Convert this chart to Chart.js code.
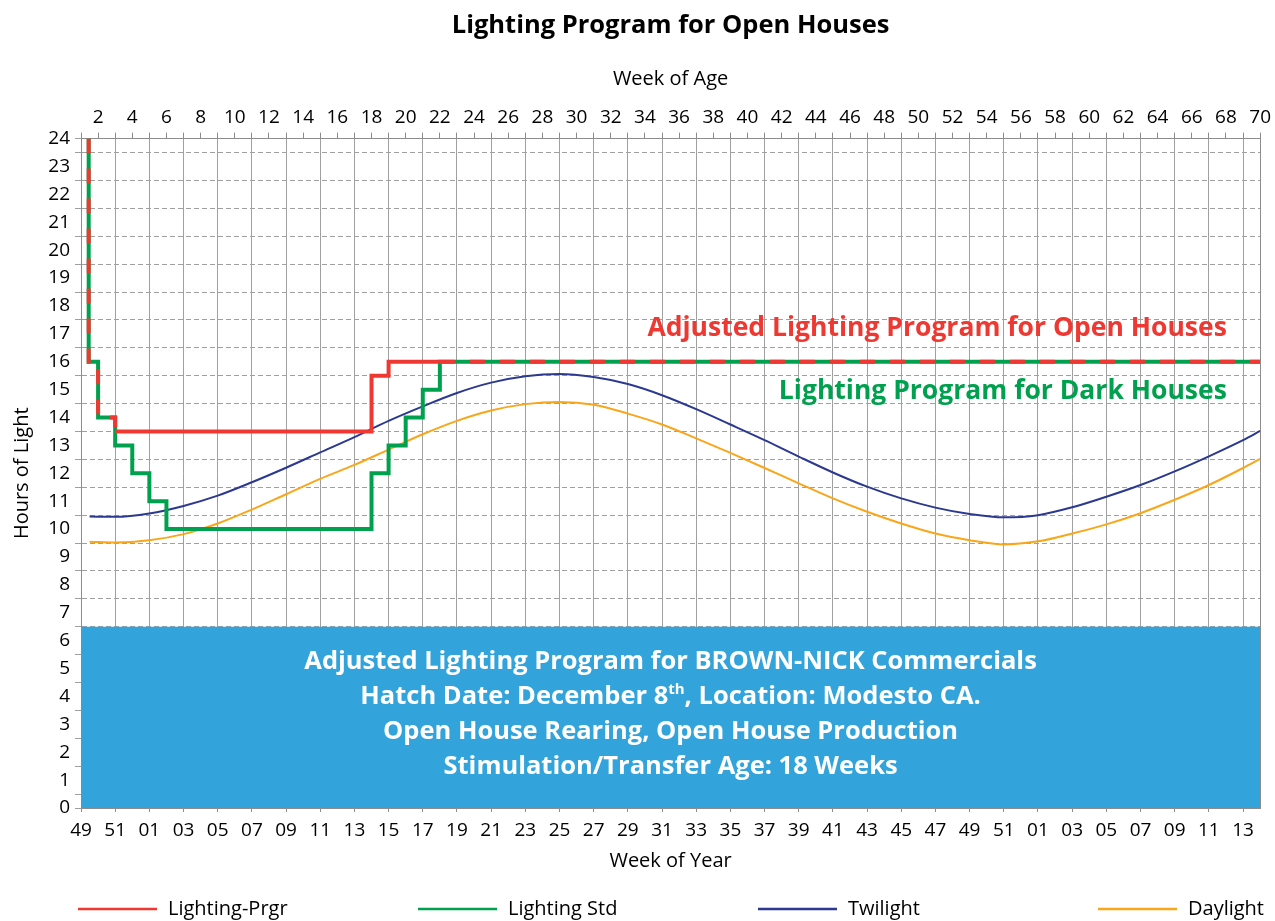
<!DOCTYPE html>
<html>
<head>
<meta charset="utf-8">
<title>Lighting Program for Open Houses</title>
<script src="https://cdn.jsdelivr.net/npm/chart.js@4"></script>
<style>
  body { margin: 0; background: #fff; }
  #chart { display: block; }
</style>
</head>
<body>
<canvas id="chart" width="1275" height="921"></canvas>
<script>
// step programs, x = week of age (week 1 = hatch week), y = hours of light
const prgrWeeks = [1.45, 1.45, 2, 3, 18, 19, 22, 70];
const prgrHours = [24, 16, 14, 13.5, 15.5, 16, 16, 16];

const stdWeeks = [1.45, 1.45, 2, 3, 4, 5, 6, 18, 19, 20, 21, 22, 70];
const stdHours = [24, 16, 14, 13, 12, 11, 10, 12, 13, 14, 15, 16, 16];

// natural day length at Modesto
const sunWeeks = [1.5, 3, 5, 7, 9, 11, 13, 15, 17, 19, 21, 23, 25, 27, 29, 31, 33, 35,
  37, 39, 41, 43, 45, 47, 49, 51, 53, 55, 57, 59, 61, 63, 65, 67, 69, 70];
const twilightHours = [10.45, 10.44, 10.56, 10.83, 11.2, 11.68, 12.2, 12.75, 13.3, 13.88,
  14.4, 14.88, 15.25, 15.48, 15.56, 15.45, 15.2, 14.8, 14.3, 13.75, 13.19, 12.6, 12.03,
  11.52, 11.1, 10.77, 10.54, 10.42, 10.5, 10.78, 11.16, 11.58, 12.07, 12.61, 13.19, 13.52];
const daylightHours = [9.55, 9.52, 9.6, 9.82, 10.2, 10.7, 11.25, 11.8, 12.3, 12.85,
  13.4, 13.88, 14.25, 14.48, 14.56, 14.46, 14.14, 13.75, 13.25, 12.73, 12.19, 11.64, 11.1,
  10.62, 10.2, 9.84, 9.6, 9.45, 9.56, 9.84, 10.17, 10.57, 11.05, 11.58, 12.19, 12.52];

// axes
const ageTicks = [2, 4, 6, 8, 10, 12, 14, 16, 18, 20, 22, 24, 26, 28, 30, 32, 34, 36, 38,
  40, 42, 44, 46, 48, 50, 52, 54, 56, 58, 60, 62, 64, 66, 68, 70];
const yearTicks = [1, 3, 5, 7, 9, 11, 13, 15, 17, 19, 21, 23, 25, 27, 29, 31, 33, 35, 37,
  39, 41, 43, 45, 47, 49, 51, 53, 55, 57, 59, 61, 63, 65, 67, 69];
const yearLabels = ['49', '51', '01', '03', '05', '07', '09', '11', '13', '15', '17', '19',
  '21', '23', '25', '27', '29', '31', '33', '35', '37', '39', '41', '43', '45', '47', '49',
  '51', '01', '03', '05', '07', '09', '11', '13'];

const bandTop = 6.5;
const bandLines = [
  ['Adjusted Lighting Program for BROWN-NICK Commercials'],
  ['Hatch Date: December 8', 'th', ', Location: Modesto CA.'],
  ['Open House Rearing, Open House Production'],
  ['Stimulation/Transfer Age: 18 Weeks']
];

const prgrColor = '#ee3831';
const stdColor = '#00a14e';
const twilightColor = '#2b3990';
const daylightColor = '#f9a61b';
const bandColor = '#33a3dc';
const gridGray = '#a0a0a0';
const axisGray = '#8c8c8c';

const FONT = "'Open Sans', sans-serif";
Chart.defaults.font.family = FONT;
Chart.defaults.color = '#000';

const toPoints = (xs, ys) => xs.map((x, i) => ({x: x, y: ys[i]}));
const stdPoints = toPoints(stdWeeks, stdHours);
// red is dashed wherever it runs on top of the green program
const sharesStd = p => stdPoints.some(s => s.x === p.x && s.y === p.y);

const notesPlugin = {
  id: 'notes',
  afterDatasetsDraw(chart) {
    const {ctx, chartArea, scales} = chart;
    const x = scales.x, y = scales.y;
    ctx.save();
    ctx.textBaseline = 'middle';

    ctx.textAlign = 'right';
    ctx.font = 'bold 26.5px ' + FONT;
    ctx.fillStyle = prgrColor;
    ctx.fillText('Adjusted Lighting Program for Open Houses', x.getPixelForValue(68.05), y.getPixelForValue(17.2));
    ctx.fillStyle = stdColor;
    ctx.fillText('Lighting Program for Dark Houses', x.getPixelForValue(68.05), y.getPixelForValue(14.95));

    // text block inside the blue band
    ctx.textAlign = 'left';
    ctx.fillStyle = '#fff';
    const cx = (chartArea.left + chartArea.right) / 2;
    const cy = (y.getPixelForValue(bandTop) + y.getPixelForValue(0)) / 2 - 3;
    bandLines.forEach((parts, i) => {
      const ly = cy + (i - 1.5) * 35;
      const fonts = parts.map((p, j) => (parts.length === 3 && j === 1) ? 'bold 15px ' + FONT : 'bold 25.5px ' + FONT);
      const widths = parts.map((p, j) => { ctx.font = fonts[j]; return ctx.measureText(p).width; });
      let px = cx - widths.reduce((a, b) => a + b, 0) / 2;
      parts.forEach((p, j) => {
        ctx.font = fonts[j];
        const sup = parts.length === 3 && j === 1;
        ctx.fillText(p, px, sup ? ly - 7 : ly);
        px += widths[j];
      });
    });
    ctx.restore();
  },
  afterDraw(chart) {
    // legend along the bottom
    const {ctx, chartArea} = chart;
    ctx.save();
    ctx.font = '20px ' + FONT;
    ctx.textBaseline = 'middle';
    ctx.textAlign = 'left';
    const ly = 909;
    chart.data.datasets.filter(d => d.label).forEach((d, i) => {
      const lx = chartArea.left - 3 + i * 340;
      ctx.strokeStyle = d.borderColor;
      ctx.lineWidth = 2.5;
      ctx.beginPath();
      ctx.moveTo(lx, ly);
      ctx.lineTo(lx + 79, ly);
      ctx.stroke();
      ctx.fillStyle = '#000';
      ctx.fillText(d.label, lx + 90, ly);
    });
    ctx.restore();
  }
};

new Chart(document.getElementById('chart'), {
  type: 'line',
  data: {
    datasets: [
      {
        label: 'Lighting-Prgr',
        data: toPoints(prgrWeeks, prgrHours),
        borderColor: prgrColor,
        borderWidth: 4,
        stepped: true,
        pointRadius: 0,
        segment: {
          borderDash: c => sharesStd(c.p0.parsed) ? [15, 15] : undefined
        }
      },
      {
        label: 'Lighting Std',
        data: stdPoints,
        borderColor: stdColor,
        borderWidth: 4,
        stepped: true,
        pointRadius: 0
      },
      {
        label: 'Twilight',
        data: toPoints(sunWeeks, twilightHours),
        borderColor: twilightColor,
        borderWidth: 2,
        cubicInterpolationMode: 'monotone',
        pointRadius: 0
      },
      {
        label: 'Daylight',
        data: toPoints(sunWeeks, daylightHours),
        borderColor: daylightColor,
        borderWidth: 2,
        cubicInterpolationMode: 'monotone',
        pointRadius: 0
      },
      {
        label: '',
        data: [{x: 1, y: bandTop}, {x: 70, y: bandTop}],
        borderWidth: 0,
        borderColor: bandColor,
        backgroundColor: bandColor,
        fill: 'origin',
        pointRadius: 0
      }
    ]
  },
  options: {
    responsive: false,
    animation: false,
    devicePixelRatio: 1,
    layout: { padding: 0 },
    plugins: {
      legend: { display: false },
      tooltip: { enabled: false },
      title: {
        display: true,
        fullSize: false,
        text: 'Lighting Program for Open Houses',
        color: '#000',
        font: { size: 25.5, weight: 'bold' },
        padding: { top: 10, bottom: 0 }
      }
    },
    scales: {
      x: {
        type: 'linear',
        position: 'bottom',
        min: 1,
        max: 70,
        afterBuildTicks: s => { s.ticks = yearTicks.map(v => ({value: v})); },
        afterFit: s => { s.height = 113; },
        ticks: {
          autoSkip: false,
          maxRotation: 0,
          padding: 7,
          font: { size: 19 },
          callback: (v, i) => yearLabels[i]
        },
        grid: { color: gridGray, tickColor: axisGray, tickLength: 4 },
        border: { color: axisGray },
        title: {
          display: true,
          text: 'Week of Year',
          font: { size: 20 },
          padding: { top: 0, bottom: 48 }
        }
      },
      xTop: {
        type: 'linear',
        position: 'top',
        min: 1,
        max: 70,
        afterBuildTicks: s => {
          s.ticks = [];
          for (let w = 1; w <= 70; w++) s.ticks.push({value: w});
        },
        afterFit: s => { s.height = 98; },
        ticks: {
          autoSkip: false,
          maxRotation: 0,
          padding: 4,
          font: { size: 19 },
          callback: v => ageTicks.includes(v) ? String(v) : ''
        },
        grid: { drawOnChartArea: false, color: axisGray, tickLength: 6 },
        border: { color: axisGray },
        title: {
          display: true,
          text: 'Week of Age',
          font: { size: 20 },
          padding: { top: 27, bottom: 0 }
        }
      },
      y: {
        min: 0,
        max: 24,
        afterBuildTicks: s => {
          s.ticks = [];
          for (let h = 0; h <= 24; h += 0.5) s.ticks.push({value: h});
        },
        afterFit: s => { s.width = 81; },
        ticks: {
          autoSkip: false,
          padding: 5,
          font: { size: 19 },
          callback: v => Number.isInteger(v) ? String(v) : ''
        },
        grid: {
          color: c => (c.tick && !Number.isInteger(c.tick.value)) ? gridGray : 'rgba(0,0,0,0)',
          tickColor: c => (c.tick && (!Number.isInteger(c.tick.value) || c.tick.value === 0 || c.tick.value === 24)) ? gridGray : 'rgba(0,0,0,0)',
          tickLength: 6
        },
        border: { color: axisGray, dash: [5, 3] },
        title: {
          display: true,
          text: 'Hours of Light',
          font: { size: 20 },
          padding: { top: 10, bottom: 0 }
        }
      },
      yRight: {
        position: 'right',
        min: 0,
        max: 24,
        afterFit: s => { s.width = 12; },
        ticks: { display: false },
        grid: { drawOnChartArea: false, drawTicks: false },
        border: { color: axisGray }
      }
    }
  },
  plugins: [notesPlugin]
});
</script>
</body>
</html>
